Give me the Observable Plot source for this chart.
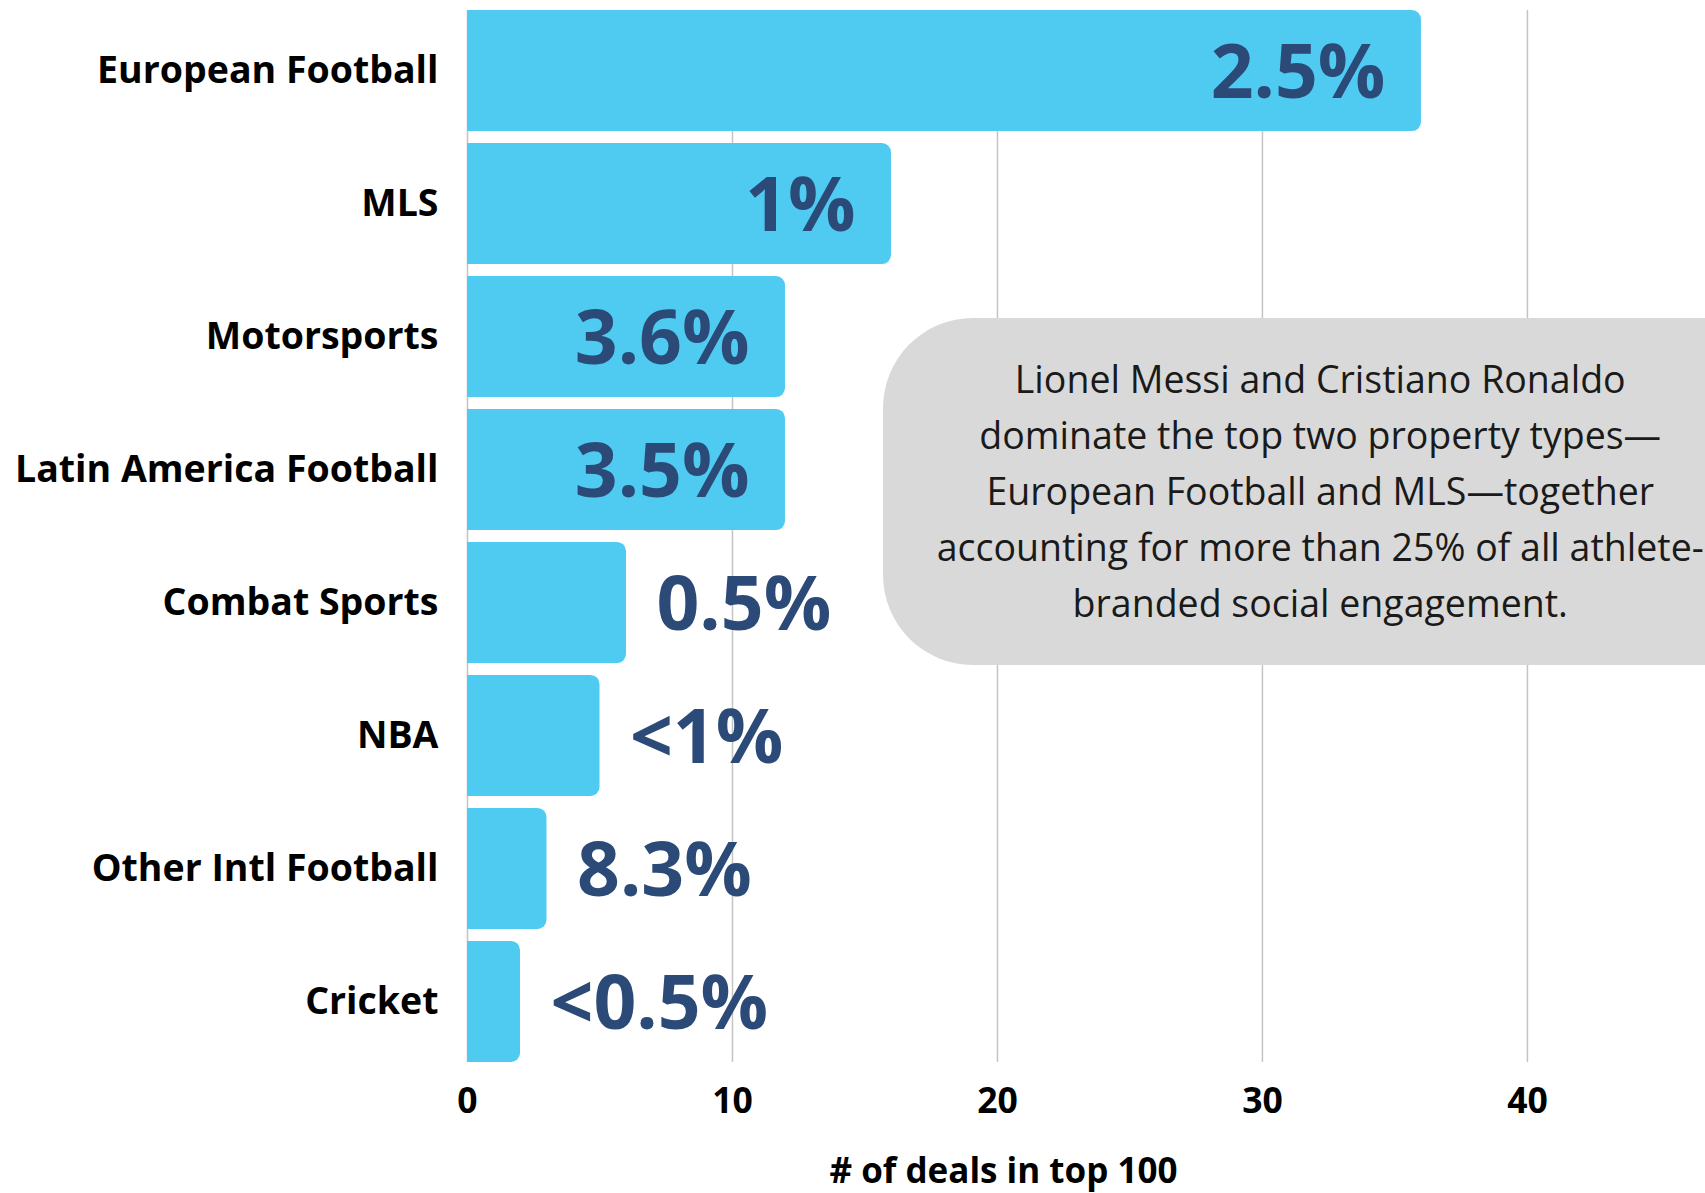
<!DOCTYPE html>
<html>
<head>
<meta charset="utf-8">
<script src="https://cdn.jsdelivr.net/npm/d3@7"></script>
<script src="https://cdn.jsdelivr.net/npm/@observablehq/plot@0.6"></script>
<style>
  html, body { margin: 0; padding: 0; background: #fff; overflow: hidden; }
  #chart svg { overflow: hidden; display: block; }
</style>
</head>
<body>
<div id="chart"></div>
<script>
// ---- data ----
const categories = ["European Football", "MLS", "Motorsports", "Latin America Football",
                    "Combat Sports", "NBA", "Other Intl Football", "Cricket"];
const deals = [36, 16, 12, 12, 6, 5, 3, 2];
const shareLabels = ["2.5%", "1%", "3.6%", "3.5%", "0.5%", "<1%", "8.3%", "<0.5%"];
const xTicks = [0, 10, 20, 30, 40];
const xTitle = "# of deals in top 100";
const noteLines = [
  "Lionel Messi and Cristiano Ronaldo",
  "dominate the top two property types\u2014",
  "European Football and MLS\u2014together",
  "accounting for more than 25% of all athlete-",
  "branded social engagement."
];

const rows = categories.map((c, i) => ({category: c, deals: deals[i], label: shareLabels[i]}));
const insideThreshold = 12;

const FONT = "'Open Sans', sans-serif";
const BAR = "#4fcbf2";
const NAVY = "#2c4a77";

// annotation (callout) drawn with the x scale
function callout(index, scales, values, dimensions) {
  const x = scales.x;
  const g = d3.create("svg:g");
  const left = x(15.7);
  const top = 318, bottom = 665;
  g.append("rect")
    .attr("x", left).attr("y", top)
    .attr("width", dimensions.width - left + 120)
    .attr("height", bottom - top)
    .attr("rx", 90).attr("ry", 90)
    .attr("fill", "#d9d9d9");
  const cx = x(32.2);
  noteLines.forEach((t, i) => {
    g.append("text")
      .attr("x", cx).attr("y", 378 + i * 56)
      .attr("text-anchor", "middle")
      .attr("dominant-baseline", "central")
      .attr("font-family", FONT)
      .attr("font-size", 37.5)
      .attr("fill", "#1a1a1a")
      .text(t);
  });
  return g.node();
}

const chart = Plot.plot({
  width: 1705,
  height: 1193,
  marginLeft: 467,
  marginRight: 0,
  marginTop: 10,
  marginBottom: 131,
  style: {fontFamily: FONT, background: "#fff", overflow: "hidden"},
  x: {domain: [0, 46.72], ticks: xTicks},
  y: {domain: categories, paddingInner: 0.09, paddingOuter: 0, round: false},
  marks: [
    Plot.gridX(xTicks, {stroke: "#c4c4c4", strokeOpacity: 1, strokeWidth: 1.5}),
    Plot.barX(rows, {x: "deals", y: "category", fill: BAR, rx: 9, insetLeft: -14, clip: true}),
    Plot.text(rows.filter(d => d.deals >= insideThreshold), {
      x: "deals", y: "category", text: "label", textAnchor: "end", dx: -36, dy: 3,
      fontSize: 75, fontWeight: 700, fill: NAVY, fontFamily: FONT
    }),
    Plot.text(rows.filter(d => d.deals < insideThreshold), {
      x: "deals", y: "category", text: "label", textAnchor: "start", dx: 30, dy: 3,
      fontSize: 75, fontWeight: 700, fill: NAVY, fontFamily: FONT
    }),
    callout,
    Plot.axisY({tickSize: 0, tickPadding: 29, fontSize: 37.5, fontWeight: 700, fill: "#000", label: null}),
    Plot.axisX(xTicks, {tickSize: 0, tickPadding: 25, fontSize: 35.5, fontWeight: 700, fill: "#000", label: null}),
    Plot.text([xTitle], {
      x: () => 20, text: d => d, frameAnchor: "bottom", dy: 109, dx: 6,
      fontSize: 35, fontWeight: 700, fill: "#000", fontFamily: FONT, lineAnchor: "middle"
    })
  ]
});
document.getElementById("chart").appendChild(chart);
</script>
</body>
</html>
